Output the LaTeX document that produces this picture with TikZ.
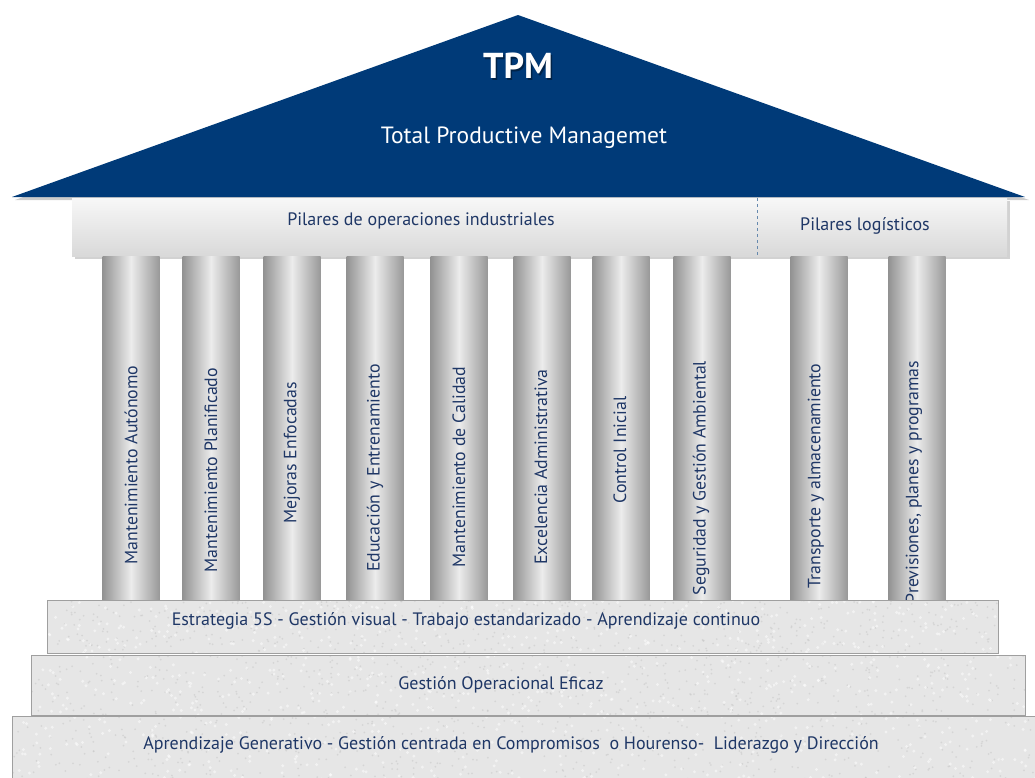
\documentclass[tikz,border=0pt]{standalone}
\usepackage{fontspec}
\setmainfont{PT Sans}
\usetikzlibrary{positioning}
\definecolor{roofblue}{HTML}{003A78}
\definecolor{textnavy}{HTML}{1F3766}
\definecolor{stone}{HTML}{E6E6E6}

\begin{document}
\begin{tikzpicture}
        [x=1pt,y=-1pt,
         pillar/.style={left color=gray!85,right color=gray!80,middle color=gray!15},
         pillartext/.style={text=textnavy,font=\fontsize{17.8}{19}\selectfont,inner sep=0pt},
         steptext/.style={text=textnavy,font=\fontsize{18}{20}\selectfont,inner sep=0pt},
         stonestep/.style={fill=stone,draw=gray!75,line width=0.8pt}]
        \useasboundingbox (0,0) rectangle (1035,777);

        % roof
        \fill[gray!40] (15,200) -- (520,18) -- (1029,200) -- cycle;
        \fill[roofblue] (12,197) -- (518,15) -- (1025,197) -- cycle;
        \node[text=roofblue!60!black,font=\bfseries\fontsize{36}{38}\selectfont] at (519.5,67.5) {TPM};
        \node[text=white,font=\bfseries\fontsize{36}{38}\selectfont] (tpm) at (518,66) {TPM};
        \node[text=white,font=\fontsize{23.5}{25}\selectfont] (tpmname) at (524,138) {Total Productive Managemet};

        % architrave
        \fill[gray!35] (75,201) rectangle (1010,259);
        \shade[top color=gray!6,bottom color=gray!30] (72,198) rectangle (1007,256);
        \draw[roofblue!60,dashed,line width=0.6pt] (757,198) -- (757,256);
        \node[steptext] (industrial) at (421,221) {Pilares de operaciones industriales};
        \node[steptext] (logistic) at (865,226) {Pilares logísticos};

        % pillars
        \foreach \cx in {131, 211, 292, 375, 459, 542, 621, 702, 819, 917}
            \shade[pillar] (\cx-28.5,256) rectangle (\cx+28.5,600);

        \foreach \cx/\cy/\name/\txt in {
            131/465/autonomo/{Mantenimiento Autónomo},
            211/470/planificado/{Mantenimiento Planificado},
            292/453/mejoras/{Mejoras Enfocadas},
            375/468/educacion/{Educación y Entrenamiento},
            459/467/calidad/{Mantenimiento de Calidad},
            541/467/excelencia/{Excelencia Administrativa},
            620/450/control/{Control Inicial},
            701/478/seguridad/{Seguridad y Gestión Ambiental},
            816/476/transporte/{Transporte y almacenamiento},
            914/482/previsiones/{Previsiones, planes y programas}}
            \node[pillartext,rotate=90] (\name) at (\cx,\cy) {\txt};

        % base steps
        \pgfmathsetseed{7}
        \foreach \xa/\ya/\xb/\yb in {12/716/1040/785, 31/655/1025/715, 47/600/998/653} {
            \fill[stone] (\xa,\ya) rectangle (\xb,\yb);
            \begin{scope}
                \clip (\xa,\ya) rectangle (\xb,\yb);
                \foreach \i in {1,...,500}
                    \fill[gray!45,opacity=0.5] ({\xa+rnd*(\xb-\xa)},{\ya+rnd*(\yb-\ya)}) circle (1.0);
                \foreach \i in {1,...,300}
                    \fill[white,opacity=0.5] ({\xa+rnd*(\xb-\xa)},{\ya+rnd*(\yb-\ya)}) circle (1.6);
            \end{scope}
            \draw[draw=gray!75,line width=0.8pt] (\xa,\ya) rectangle (\xb,\yb);
        }

        \node[steptext] (estrategia) at (466,621) {Estrategia 5S - Gestión visual - Trabajo estandarizado - Aprendizaje continuo};
        \node[steptext] (operacional) at (501,685) {Gestión Operacional Eficaz};
        \node[steptext] (generativo) at (511,745) {Aprendizaje Generativo - Gestión centrada en Compromisos\ \ o Hourenso-\ \ Liderazgo y Dirección};

      \end{tikzpicture}
\end{document}
